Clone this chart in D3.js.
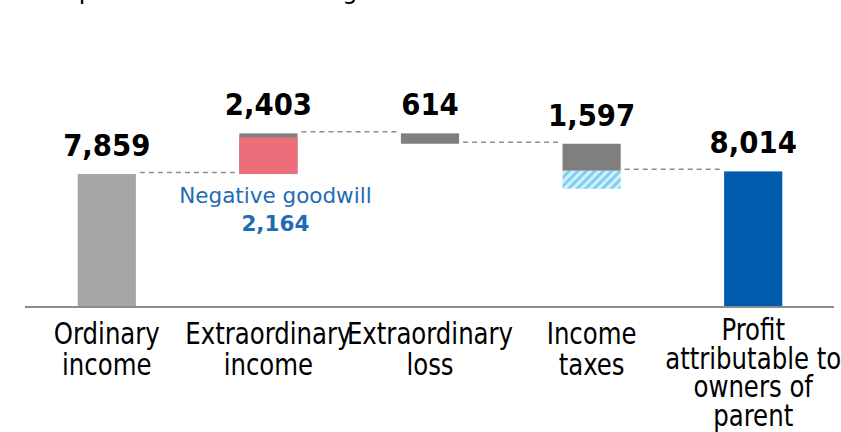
<!DOCTYPE html>
<html>
<head>
<meta charset="utf-8">
<script src="https://cdn.jsdelivr.net/npm/d3@7"></script>
<style>
  html, body { margin: 0; padding: 0; background: #fff; }
  svg { display: block; }
</style>
</head>
<body>
<div id="chart"></div>
<script>
// Waterfall: ordinary income -> profit attributable to owners of parent
const categories = [
  ["Ordinary", "income"],
  ["Extraordinary", "income"],
  ["Extraordinary", "loss"],
  ["Income", "taxes"],
  ["Profit", "attributable to", "owners of", "parent"]
];
const kinds = ["total", "delta", "delta", "delta", "total"];
const values = [7859, 2403, -614, -1597, 8014];
const valueLabels = ["7,859", "2,403", "614", "1,597", "8,014"];

// Breakdown inside extraordinary income
const goodwillLabel = ["Negative goodwill", "2,164"];
const negativeGoodwill = 2164;
// Tax effect shown as hatched block under income taxes
const taxEffect = 1060;

const W = 841, H = 432;
const svg = d3.select("#chart").append("svg")
  .attr("width", W).attr("height", H);

const defs = svg.append("defs");
const pat = defs.append("pattern")
  .attr("id", "hatch")
  .attr("patternUnits", "userSpaceOnUse")
  .attr("width", 6).attr("height", 6)
  .attr("patternTransform", "rotate(45)");
pat.append("rect").attr("width", 6).attr("height", 6).attr("fill", "#d4effc");
pat.append("rect").attr("width", 3).attr("height", 6).attr("fill", "#7fcff3");

// Heading line running off the top edge
svg.append("text")
  .attr("x", -106).attr("y", -1)
  .attr("font-family", "DejaVu Sans, sans-serif")
  .attr("font-size", 24)
  .attr("fill", "#000")
  .text("Breakdown of special factors including tax effects and others");

const x = d3.scaleBand()
  .domain(d3.range(categories.length))
  .range([26, 834])
  .paddingInner(0).paddingOuter(0);
const barW = x.bandwidth() * 0.36;
const cx = i => x(i) + x.bandwidth() / 2;

const y = d3.scaleLinear().domain([0, 10000]).range([307, 137.8]);

// Build running levels
const bars = [];
let level = 0;
values.forEach((v, i) => {
  if (kinds[i] === "total") {
    bars.push({ i, y0: 0, y1: v, end: v });
    level = v;
  } else {
    const start = level;
    level = start + v;
    bars.push({ i, y0: Math.min(start, level), y1: Math.max(start, level), start, end: level });
  }
});

// Dashed connectors between consecutive bars
const g = svg.append("g");
for (let i = 0; i < bars.length - 1; i++) {
  const lv = bars[i].end;
  g.append("line")
    .attr("x1", cx(i) + barW / 2 + 4)
    .attr("x2", cx(i + 1) - barW / 2 - 3)
    .attr("y1", y(lv) - 1.5).attr("y2", y(lv) - 1.5)
    .attr("stroke", "#8c8c8c")
    .attr("stroke-width", 1.5)
    .attr("stroke-dasharray", "5,4");
}

const fills = ["#a6a6a6", "#7f7f7f", "#7f7f7f", "#7f7f7f", "#005bac"];
bars.forEach(b => {
  g.append("rect")
    .attr("x", cx(b.i) - barW / 2)
    .attr("width", barW)
    .attr("y", y(b.y1))
    .attr("height", y(b.y0) - y(b.y1))
    .attr("fill", fills[b.i]);
});

// Negative goodwill portion of extraordinary income
{
  const b = bars[1];
  g.append("rect")
    .attr("x", cx(1) - barW / 2)
    .attr("width", barW)
    .attr("y", y(b.start + negativeGoodwill))
    .attr("height", y(b.start) - y(b.start + negativeGoodwill))
    .attr("fill", "#eb6e7a");
}

// Hatched tax effect below income taxes
{
  const b = bars[3];
  g.append("rect")
    .attr("x", cx(3) - barW / 2)
    .attr("width", barW)
    .attr("y", y(b.end))
    .attr("height", y(b.end - taxEffect) - y(b.end))
    .attr("fill", "url(#hatch)");
}

// Baseline axis
svg.append("line")
  .attr("x1", 25).attr("x2", 834)
  .attr("y1", 307).attr("y2", 307)
  .attr("stroke", "#8c8c8c").attr("stroke-width", 2);

// Value labels
bars.forEach(b => {
  svg.append("text")
    .attr("transform", `translate(${cx(b.i)},${y(b.y1) - 18}) scale(0.92,1)`)
    .attr("text-anchor", "middle")
    .attr("font-family", "DejaVu Sans, sans-serif")
    .attr("font-weight", "bold")
    .attr("font-size", 30)
    .attr("fill", "#000")
    .text(valueLabels[b.i]);
});

// Negative goodwill annotation
const gx = cx(1) + 7;
svg.append("text")
  .attr("x", gx).attr("y", 203)
  .attr("text-anchor", "middle")
  .attr("font-family", "DejaVu Sans, sans-serif")
  .attr("font-size", 21.5)
  .attr("fill", "#1f6cb4")
  .text(goodwillLabel[0]);
svg.append("text")
  .attr("x", gx).attr("y", 231)
  .attr("text-anchor", "middle")
  .attr("font-family", "DejaVu Sans, sans-serif")
  .attr("font-weight", "bold")
  .attr("font-size", 21.5)
  .attr("fill", "#1f6cb4")
  .text(goodwillLabel[1]);

// Category labels (tall, narrow lettering)
categories.forEach((lines, i) => {
  const long = lines.length > 2;
  const t = svg.append("text")
    .attr("transform", `translate(${cx(i)},0) scale(0.876,1)`)
    .attr("text-anchor", "middle")
    .attr("font-family", "'DejaVu Sans Condensed', 'DejaVu Sans', sans-serif")
    .attr("font-stretch", "condensed")
    .attr("font-size", 31)
    .attr("fill", "#000");
  lines.forEach((ln, k) => {
    t.append("tspan")
      .attr("x", 0)
      .attr("y", (long ? 340 : 344) + k * (long ? 28.7 : 31))
      .text(ln);
  });
});
</script>
</body>
</html>
